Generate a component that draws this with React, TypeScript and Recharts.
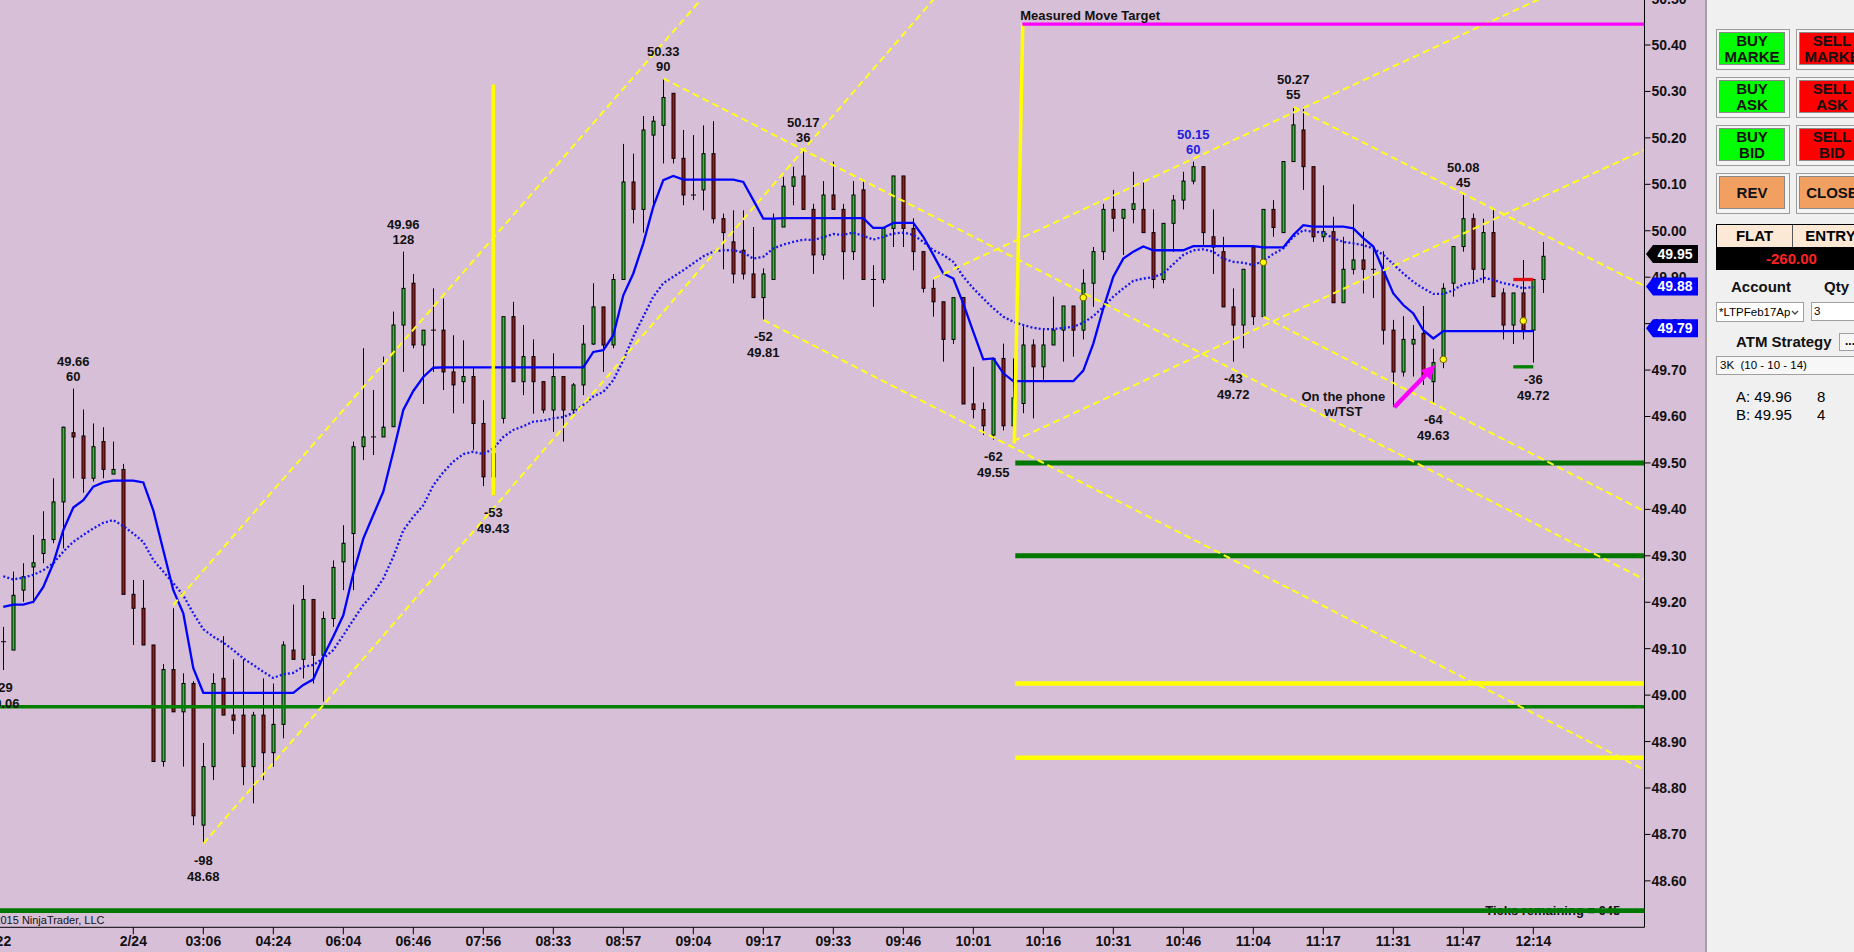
import React from "react";
import { Bar, ComposedChart, Line, ReferenceDot, ReferenceLine, XAxis, YAxis } from "recharts";

const FONT = '"Liberation Sans", Arial, sans-serif';

// candles (one per 10px)
const OPEN = [
  49.115, 49.097, 49.226, 49.276, 49.305, 49.335, 49.416, 49.565, 49.558, 49.467,
  49.546, 49.476, 49.486, 49.217, 49.187, 49.108, 48.857, 49.055, 48.964, 49.025,
  48.72, 48.846, 49.036, 48.957, 48.957, 48.846, 48.957, 48.876, 48.937, 49.097,
  49.077, 49.206, 49.086, 49.165, 49.287, 49.348, 49.535, 49.556, 49.556, 49.578,
  49.797, 49.887, 49.754, 49.786, 49.786, 49.696, 49.675, 49.686, 49.585, 49.47,
  49.596, 49.815, 49.675, 49.729, 49.675, 49.614, 49.686, 49.614, 49.668, 49.756,
  49.836, 49.754, 49.895, 50.105, 50.046, 50.206, 50.227, 50.296, 50.156, 50.077,
  50.088, 50.166, 50.026, 49.976, 49.958, 49.907, 49.856, 49.895, 50.008, 50.096,
  50.118, 50.046, 49.948, 50.077, 50.046, 49.955, 50.088, 49.895, 49.895, 50.005,
  50.118, 50.005, 49.955, 49.876, 49.847, 49.766, 49.856, 49.627, 49.615, 49.56,
  49.725, 49.58, 49.628, 49.754, 49.707, 49.754, 49.786, 49.838, 49.786, 49.887,
  49.955, 50.046, 50.027, 50.046, 50.046, 49.996, 49.895, 50.016, 50.066, 50.107,
  50.138, 49.987, 49.955, 49.836, 49.797, 49.965, 49.815, 50.046, 49.996, 50.149,
  50.217, 50.138, 49.987, 49.998, 49.845, 49.917, 49.937, 49.917, 49.917, 49.786,
  49.696, 49.756, 49.779, 49.675, 49.723, 49.887, 49.966, 50.026, 49.917, 49.996,
  49.866, 49.797, 49.866, 49.786, 49.895,
];
const HIGH = [
  49.147, 49.266, 49.284, 49.345, 49.396, 49.467, 49.578, 49.66, 49.615, 49.585,
  49.577, 49.546, 49.498, 49.248, 49.248, 49.108, 49.067, 49.187, 49.047, 49.03,
  48.897, 49.047, 49.127, 49.077, 49.077, 48.964, 49.036, 49.025, 49.116, 49.195,
  49.237, 49.206, 49.18, 49.29, 49.366, 49.546, 49.747, 49.657, 49.729, 49.826,
  49.955, 49.907, 49.786, 49.876, 49.854, 49.775, 49.764, 49.704, 49.635, 49.53,
  49.815, 49.847, 49.797, 49.766, 49.675, 49.736, 49.686, 49.672, 49.797, 49.887,
  49.836, 49.907, 50.187, 50.166, 50.247, 50.247, 50.328, 50.296, 50.217, 50.206,
  50.227, 50.236, 50.037, 50.044, 50.044, 50.008, 49.919, 50.037, 50.116, 50.138,
  50.174, 50.058, 50.107, 50.149, 50.058, 50.107, 50.107, 49.926, 50.005, 50.118,
  50.118, 50.027, 49.955, 49.895, 49.847, 49.856, 49.856, 49.707, 49.63, 49.725,
  49.757, 49.725, 49.799, 49.766, 49.786, 49.858, 49.838, 49.838, 49.917, 49.965,
  50.058, 50.088, 50.046, 50.127, 50.107, 50.046, 50.016, 50.077, 50.127, 50.149,
  50.138, 50.046, 49.987, 49.876, 49.917, 49.965, 50.046, 50.066, 50.149, 50.267,
  50.267, 50.138, 50.098, 50.03, 49.987, 50.057, 49.998, 49.967, 49.956, 49.808,
  49.816, 49.797, 49.838, 49.746, 49.887, 49.966, 50.077, 50.037, 50.026, 50.046,
  49.876, 49.866, 49.937, 49.895, 49.976,
];
const LOW = [
  49.054, 49.097, 49.201, 49.198, 49.284, 49.327, 49.316, 49.467, 49.436, 49.46,
  49.467, 49.476, 49.217, 49.108, 49.108, 48.857, 48.846, 48.964, 48.846, 48.72,
  48.68, 48.817, 48.957, 48.916, 48.806, 48.767, 48.817, 48.846, 48.907, 49.077,
  49.036, 49.025, 48.986, 49.147, 49.226, 49.226, 49.506, 49.517, 49.556, 49.578,
  49.696, 49.747, 49.627, 49.696, 49.657, 49.607, 49.628, 49.528, 49.45, 49.43,
  49.585, 49.675, 49.646, 49.606, 49.607, 49.567, 49.546, 49.607, 49.646, 49.754,
  49.696, 49.747, 49.895, 50.016, 49.996, 50.055, 50.145, 50.145, 50.055, 50.066,
  50.044, 50.016, 49.917, 49.887, 49.895, 49.856, 49.808, 49.895, 50.008, 50.055,
  50.046, 49.907, 49.937, 50.046, 49.895, 49.937, 49.895, 49.836, 49.887, 49.965,
  49.965, 49.915, 49.867, 49.815, 49.718, 49.756, 49.627, 49.596, 49.56, 49.55,
  49.57, 49.57, 49.607, 49.596, 49.679, 49.754, 49.718, 49.729, 49.766, 49.836,
  49.937, 49.998, 49.948, 50.016, 49.996, 49.876, 49.887, 49.955, 50.046, 50.1,
  49.965, 49.907, 49.836, 49.718, 49.747, 49.797, 49.815, 49.987, 49.996, 50.149,
  50.088, 49.976, 49.976, 49.845, 49.845, 49.906, 49.865, 49.855, 49.755, 49.62,
  49.686, 49.686, 49.668, 49.63, 49.704, 49.858, 49.955, 49.89, 49.887, 49.858,
  49.766, 49.756, 49.766, 49.716, 49.866,
];
const CLOSE = [
  49.115, 49.215, 49.255, 49.285, 49.335, 49.416, 49.577, 49.556, 49.467, 49.535,
  49.486, 49.486, 49.217, 49.187, 49.108, 48.857, 49.055, 48.964, 49.025, 48.74,
  48.846, 49.025, 48.957, 48.946, 48.846, 48.957, 48.876, 48.937, 49.108, 49.077,
  49.206, 49.086, 49.165, 49.275, 49.327, 49.535, 49.556, 49.556, 49.577, 49.797,
  49.876, 49.754, 49.786, 49.786, 49.696, 49.668, 49.686, 49.585, 49.47, 49.52,
  49.815, 49.675, 49.729, 49.675, 49.614, 49.686, 49.614, 49.668, 49.756, 49.836,
  49.754, 49.895, 50.105, 50.046, 50.217, 50.236, 50.287, 50.156, 50.077, 50.077,
  50.166, 50.026, 49.996, 49.907, 49.907, 49.856, 49.907, 50.026, 50.096, 50.116,
  50.046, 49.948, 50.077, 50.046, 49.955, 50.077, 49.895, 49.895, 50.005, 50.118,
  50.005, 49.955, 49.876, 49.847, 49.766, 49.856, 49.627, 49.615, 49.58, 49.725,
  49.58, 49.64, 49.754, 49.707, 49.754, 49.786, 49.838, 49.786, 49.887, 49.955,
  50.046, 50.027, 50.046, 50.058, 49.996, 49.895, 50.016, 50.066, 50.107, 50.138,
  49.996, 49.965, 49.836, 49.797, 49.917, 49.815, 50.046, 50.007, 50.149, 50.228,
  50.138, 49.987, 49.998, 49.845, 49.917, 49.937, 49.917, 49.917, 49.786, 49.696,
  49.766, 49.766, 49.686, 49.716, 49.876, 49.966, 50.026, 49.917, 49.996, 49.858,
  49.797, 49.866, 49.786, 49.895, 49.945,
];

// solid blue average
const MA = [
  49.19, 49.195, 49.195, 49.201, 49.233, 49.284, 49.355, 49.404, 49.42, 49.449,
  49.458, 49.462, 49.462, 49.462, 49.458, 49.398, 49.312, 49.226, 49.176, 49.058,
  49.005, 49.005, 49.005, 49.005, 49.005, 49.005, 49.005, 49.005, 49.005, 49.005,
  49.022, 49.034, 49.083, 49.126, 49.172, 49.262, 49.337, 49.388, 49.438, 49.524,
  49.614, 49.655, 49.685, 49.705, 49.706, 49.706, 49.706, 49.706, 49.706, 49.706,
  49.706, 49.706, 49.706, 49.706, 49.706, 49.706, 49.706, 49.706, 49.706, 49.739,
  49.743, 49.775, 49.861, 49.908, 49.973, 50.052, 50.109, 50.118, 50.11, 50.11,
  50.11, 50.11, 50.11, 50.11, 50.105, 50.066, 50.026, 50.026, 50.027, 50.027,
  50.027, 50.027, 50.027, 50.027, 50.027, 50.027, 50.027, 50.006, 50.006, 50.017,
  50.017, 50.017, 49.987, 49.948, 49.908, 49.897, 49.843, 49.782, 49.723, 49.725,
  49.693, 49.676, 49.676, 49.676, 49.676, 49.676, 49.676, 49.676, 49.699, 49.757,
  49.833, 49.901, 49.94, 49.955, 49.966, 49.958, 49.958, 49.958, 49.958, 49.967,
  49.967, 49.967, 49.967, 49.967, 49.967, 49.967, 49.964, 49.964, 49.964, 49.991,
  50.012, 50.009, 50.009, 50.009, 50.009, 50.005, 49.984, 49.966, 49.915, 49.865,
  49.84, 49.822, 49.786, 49.768, 49.784, 49.784, 49.784, 49.784, 49.784, 49.784,
  49.784, 49.784, 49.784, 49.784, null,
];
// dotted blue average
const EMA = [
  49.256, 49.249, 49.253, 49.259, 49.269, 49.284, 49.309, 49.33, 49.345, 49.359,
  49.371, 49.377, 49.364, 49.348, 49.33, 49.291, 49.266, 49.241, 49.215, 49.176,
  49.142, 49.126, 49.113, 49.097, 49.079, 49.065, 49.05, 49.037, 49.045, 49.048,
  49.061, 49.065, 49.079, 49.097, 49.129, 49.162, 49.194, 49.219, 49.251, 49.298,
  49.355, 49.384, 49.409, 49.452, 49.48, 49.503, 49.519, 49.524, 49.519, 49.531,
  49.556, 49.571, 49.579, 49.589, 49.591, 49.596, 49.599, 49.608, 49.625, 49.643,
  49.653, 49.678, 49.721, 49.772, 49.815, 49.858, 49.887, 49.901, 49.915, 49.93,
  49.945, 49.955, 49.958, 49.958, 49.953, 49.94, 49.944, 49.962, 49.97, 49.976,
  49.981, 49.98, 49.986, 49.993, 49.991, 49.996, 49.989, 49.981, 49.987, 49.994,
  49.996, 49.991, 49.976, 49.958, 49.948, 49.933, 49.901, 49.876, 49.854, 49.833,
  49.815, 49.804, 49.797, 49.791, 49.788, 49.788, 49.791, 49.793, 49.802, 49.816,
  49.836, 49.858, 49.876, 49.892, 49.897, 49.9, 49.908, 49.928, 49.948, 49.958,
  49.96, 49.955, 49.94, 49.933, 49.931, 49.926, 49.935, 49.95, 49.962, 49.987,
  50.001, 49.998, 49.996, 49.984, 49.976, 49.973, 49.969, 49.962, 49.948, 49.928,
  49.908, 49.89, 49.876, 49.864, 49.864, 49.872, 49.885, 49.888, 49.899, 49.894,
  49.887, 49.883, 49.876, 49.879, null,
];

const TICK_IDX = [-1, 13, 20, 27, 34, 41, 48, 55, 62, 69, 76, 83, 90, 97, 104, 111, 118, 125, 132, 139, 146, 153];
const TICK_LABELS = [
  "15:22", "2/24", "03:06", "04:24", "06:04", "06:46", "07:56", "08:33", "08:57", "09:04", "09:17",
  "09:33", "09:46", "10:01", "10:16", "10:31", "10:46", "11:04", "11:17", "11:31", "11:47", "12:14",
];
const PRICE_TICKS = [
  48.6, 48.7, 48.8, 48.9, 49.0, 49.1, 49.2, 49.3, 49.4, 49.5,
  49.6, 49.7, 49.8, 49.9, 50.0, 50.1, 50.2, 50.3, 50.4, 50.5,
];
const X_DOMAIN = [-0.33, 164.12];
const Y_DOMAIN = [48.5, 50.54];

// swing labels: bar index, kind, two text lines
const SWINGS = [
  { i: 0, kind: "low", a: "-29", b: "49.06" },
  { i: 7, kind: "high", a: "49.66", b: "60" },
  { i: 20, kind: "low", a: "-98", b: "48.68" },
  { i: 40, kind: "high", a: "49.96", b: "128" },
  { i: 49, kind: "low", a: "-53", b: "49.43" },
  { i: 66, kind: "high", a: "50.33", b: "90" },
  { i: 76, kind: "low", a: "-52", b: "49.81" },
  { i: 80, kind: "high", a: "50.17", b: "36" },
  { i: 99, kind: "low", a: "-62", b: "49.55" },
  { i: 119, kind: "high", a: "50.15", b: "60", blue: true },
  { i: 123, kind: "low", a: "-43", b: "49.72" },
  { i: 129, kind: "high", a: "50.27", b: "55" },
  { i: 143, kind: "low", a: "-64", b: "49.63" },
  { i: 146, kind: "high", a: "50.08", b: "45" },
  { i: 153, kind: "low", a: "-36", b: "49.72" },
];

// dashed trend lines [i1, p1, i2, p2]
const TRENDS = [
  [17, 49.194, 75, 50.627],
  [20, 48.68, 98, 50.622],
  [66, 50.328, 164.2, 49.248],
  [76, 49.808, 164.2, 48.838],
  [129, 50.267, 164.2, 49.88],
  [126, 49.815, 164.2, 49.395],
  [93, 49.897, 164.2, 50.604],
  [101, 49.547, 164.2, 50.175],
];
// solid yellow verticals
const VERTICALS = [
  [49, 49.43, 49, 50.315],
  [101.1, 49.542, 101.95, 50.446],
];
const ZONE_START = 101.2;
const GREEN_LEVELS = [49.5, 49.3];
const YELLOW_LEVELS = [49.025, 48.865];
const TARGET = 50.445;
const LONG_GREEN = 48.975;
const BOTTOM_GREEN = 48.536;
const STOP = 49.895;
const PROFIT = 49.707;
const MARKERS = [
  [108, 49.856],
  [126, 49.932],
  [144, 49.723],
  [152, 49.806],
];
const ARROW = [139.1, 49.62, 143.2, 49.711];
const BADGES = [
  { p: 49.95, text: "49.95", fill: "#000000" },
  { p: 49.88, text: "49.88", fill: "#0000ff" },
  { p: 49.79, text: "49.79", fill: "#0000ff" },
];

const rows = OPEN.map((o, i) => ({
  i,
  o,
  h: HIGH[i],
  l: LOW[i],
  c: CLOSE[i],
  ma: MA[i],
  ema: EMA[i],
}));

const CHART_W = 1745.5;
const CHART_H = 977.3;
const MARGIN = { top: 0, right: 0, bottom: 0, left: 40 };

function Candle(props: any) {
  const { x, y, width, height, payload } = props;
  if (x == null || y == null) return null;
  const cx = Math.round(x + width / 2) + 0.5;
  const top = Math.min(y, y + height);
  const bot = Math.max(y, y + height);
  const span = payload.h - payload.l;
  const toY = (v: number) => (span > 0 ? top + ((payload.h - v) / span) * (bot - top) : top);
  const yo = toY(payload.o);
  const yc = toY(payload.c);
  const up = payload.c > payload.o;
  const flat = Math.abs(yo - yc) < 1.5;
  return (
    <g>
      <line x1={cx} x2={cx} y1={top} y2={bot} stroke="#000" strokeWidth={1} />
      {flat ? (
        <line x1={cx - 2.5} x2={cx + 2.5} y1={yo} y2={yo} stroke="#000" strokeWidth={1} />
      ) : (
        <rect
          x={cx - 1.5}
          y={Math.min(yo, yc)}
          width={3}
          height={Math.abs(yo - yc)}
          fill={up ? "#2fbf2f" : "#a41818"}
          stroke="#000"
          strokeWidth={1}
        />
      )}
    </g>
  );
}

function SwingText(props: any) {
  const { cx, cy, s } = props;
  const offs = s.kind === "high" ? [-27, -12] : [17, 33];
  return (
    <g>
      {[s.a, s.b].map((t: string, j: number) => (
        <text
          key={j}
          x={cx}
          y={cy + offs[j]}
          textAnchor="middle"
          dominantBaseline="central"
          fontFamily={FONT}
          fontWeight={700}
          fontSize={13}
          fill={s.blue ? "#2020e0" : "#111"}
        >
          {t}
        </text>
      ))}
    </g>
  );
}

function Note(props: any) {
  const { cx, cy, text, anchor = "middle", size = 13, weight = 700 } = props;
  return (
    <text
      x={cx}
      y={cy}
      textAnchor={anchor}
      dominantBaseline="central"
      fontFamily={FONT}
      fontWeight={weight}
      fontSize={size}
      fill="#111"
    >
      {text}
    </text>
  );
}

function Arrow(props: any) {
  const { x1, y1, x2, y2 } = props;
  const a = Math.atan2(y2 - y1, x2 - x1);
  const hl = 14;
  const hw = 7;
  const bx = x2 - hl * Math.cos(a);
  const by = y2 - hl * Math.sin(a);
  const px = -Math.sin(a) * hw;
  const py = Math.cos(a) * hw;
  return (
    <g>
      <line x1={x1} y1={y1} x2={bx} y2={by} stroke="#ff00ff" strokeWidth={4.5} />
      <path d={`M${x2},${y2} L${bx + px},${by + py} L${bx - px},${by - py} Z`} fill="#ff00ff" />
    </g>
  );
}

function Badge(props: any) {
  const { cx, cy, b } = props;
  const x = cx + 1.5;
  return (
    <g>
      <path d={`M${x},${cy} L${x + 7},${cy - 9} H${x + 52} V${cy + 9} H${x + 7} Z`} fill={b.fill} />
      <text
        x={x + 29}
        y={cy}
        textAnchor="middle"
        dominantBaseline="central"
        fontFamily={FONT}
        fontWeight={700}
        fontSize={14}
        fill="#fff"
      >
        {b.text}
      </text>
    </g>
  );
}

function PriceChart() {
  const seg = (x1: number, y1: number, x2: number, y2: number) => [
    { x: x1, y: y1 },
    { x: x2, y: y2 },
  ];
  return (
    <ComposedChart width={CHART_W} height={CHART_H} data={rows} margin={MARGIN}>
      <XAxis
        type="number"
        dataKey="i"
        domain={X_DOMAIN}
        allowDataOverflow
        ticks={TICK_IDX}
        interval={0}
        tickFormatter={(v) => TICK_LABELS[TICK_IDX.indexOf(v)] ?? ""}
        tickSize={7}
        tickMargin={2}
        height={30}
        stroke="#000"
        tick={{ fontSize: 14, fontWeight: 700, fill: "#111", fontFamily: FONT }}
      />
      <YAxis
        type="number"
        orientation="right"
        domain={Y_DOMAIN}
        allowDataOverflow
        ticks={PRICE_TICKS}
        interval={0}
        tickFormatter={(v) => Number(v).toFixed(2)}
        tickSize={6}
        tickMargin={1}
        width={61}
        stroke="#000"
        tick={{ fontSize: 14, fontWeight: 700, fill: "#111", fontFamily: FONT }}
      />
      <ReferenceDot
        x={161.7}
        y={BOTTOM_GREEN}
        r={0}
        ifOverflow="visible"
        shape={(p: any) => <Note {...p} text="Ticks remaining = 645" anchor="end" />}
      />
      <Bar
        dataKey={(d: any) => [d.l, d.h]}
        barSize={6}
        shape={(p: any) => <Candle {...p} />}
        isAnimationActive={false}
      />
      <Line
        dataKey="ema"
        stroke="#1616f0"
        strokeWidth={2.3}
        strokeDasharray="2 2.2"
        dot={false}
        activeDot={false}
        isAnimationActive={false}
      />
      <Line
        dataKey="ma"
        stroke="#0000ff"
        strokeWidth={2.3}
        dot={false}
        activeDot={false}
        isAnimationActive={false}
      />
      <ReferenceLine y={LONG_GREEN} stroke="#008000" strokeWidth={3.3} />
      {GREEN_LEVELS.map((p) => (
        <ReferenceLine
          key={p}
          segment={seg(ZONE_START, p, 164.2, p)}
          stroke="#007800"
          strokeWidth={5}
          ifOverflow="hidden"
        />
      ))}
      {YELLOW_LEVELS.map((p) => (
        <ReferenceLine
          key={p}
          segment={seg(ZONE_START, p, 164.2, p)}
          stroke="#ffff00"
          strokeWidth={4.5}
          ifOverflow="hidden"
        />
      ))}
      {TRENDS.map((t, n) => (
        <ReferenceLine
          key={"t" + n}
          segment={seg(t[0], t[1], t[2], t[3])}
          stroke="#ffff1a"
          strokeWidth={2}
          strokeDasharray="7 4"
          ifOverflow="hidden"
        />
      ))}
      {VERTICALS.map((t, n) => (
        <ReferenceLine
          key={"v" + n}
          segment={seg(t[0], t[1], t[2], t[3])}
          stroke="#ffff00"
          strokeWidth={3.5}
          ifOverflow="hidden"
        />
      ))}
      <ReferenceLine
        segment={seg(101.9, TARGET, 164.2, TARGET)}
        stroke="#ff00ff"
        strokeWidth={3.3}
        ifOverflow="hidden"
      />
      <ReferenceLine segment={seg(151, STOP, 153, STOP)} stroke="#e01010" strokeWidth={3.3} />
      <ReferenceLine segment={seg(151, PROFIT, 153, PROFIT)} stroke="#008000" strokeWidth={3.3} />
      <ReferenceLine
        segment={seg(ARROW[0], ARROW[1], ARROW[2], ARROW[3])}
        shape={(p: any) => <Arrow {...p} />}
      />
      {MARKERS.map((m, n) => (
        <ReferenceDot
          key={"m" + n}
          x={m[0]}
          y={m[1]}
          r={3.3}
          fill="#ffff00"
          stroke="#6b5a00"
          strokeWidth={1}
        />
      ))}
      {SWINGS.map((s) => (
        <ReferenceDot
          key={"s" + s.i}
          x={s.i}
          y={s.kind === "high" ? HIGH[s.i] : LOW[s.i]}
          r={0}
          ifOverflow="visible"
          shape={(p: any) => <SwingText {...p} s={s} />}
        />
      ))}
      <ReferenceDot
        x={101.7}
        y={50.464}
        r={0}
        ifOverflow="visible"
        shape={(p: any) => <Note {...p} text="Measured Move Target" anchor="start" />}
      />
      <ReferenceDot
        x={134}
        y={49.643}
        r={0}
        ifOverflow="visible"
        shape={(p: any) => <Note {...p} text="On the phone" />}
      />
      <ReferenceDot
        x={134}
        y={49.611}
        r={0}
        ifOverflow="visible"
        shape={(p: any) => <Note {...p} text="w/TST" />}
      />
      <ReferenceDot
        x={-1.7}
        y={48.515}
        r={0}
        ifOverflow="visible"
        shape={(p: any) => <Note {...p} text="©2015 NinjaTrader, LLC" anchor="start" size={11} weight={400} />}
      />
    </ComposedChart>
  );
}

// same scales, drawn on top: the bottom line over its text, the price badges over the axis labels
function OverlayChart() {
  return (
    <ComposedChart width={CHART_W} height={CHART_H} data={rows} margin={MARGIN}>
      <XAxis
        type="number"
        dataKey="i"
        domain={X_DOMAIN}
        allowDataOverflow
        height={30}
        tick={false}
        tickLine={false}
        axisLine={false}
      />
      <YAxis
        type="number"
        orientation="right"
        domain={Y_DOMAIN}
        allowDataOverflow
        width={61}
        tick={false}
        tickLine={false}
        axisLine={false}
      />
      <ReferenceLine y={BOTTOM_GREEN} stroke="#007800" strokeWidth={4.7} />
      {BADGES.map((b) => (
        <ReferenceDot
          key={b.text}
          x={X_DOMAIN[1]}
          y={b.p}
          r={0}
          ifOverflow="visible"
          shape={(p: any) => <Badge {...p} b={b} />}
        />
      ))}
    </ComposedChart>
  );
}

function Btn({ left, top, fill, l1, l2 }: { left: number; top: number; fill: string; l1: string; l2?: string }) {
  return (
    <div
      style={{
        position: "absolute",
        left,
        top,
        width: 68,
        height: 35,
        border: "1px solid #9c9c9c",
        background: "#f4f4f4",
        padding: 2,
        boxSizing: "content-box",
      }}
    >
      <div
        style={{
          width: 64,
          height: 31,
          background: fill,
          border: "1px solid #8a8a8a",
          display: "flex",
          flexDirection: "column",
          alignItems: "center",
          justifyContent: "center",
          fontWeight: 700,
          fontSize: 15,
          lineHeight: "16px",
          color: "#111",
          overflow: "hidden",
          whiteSpace: "nowrap",
        }}
      >
        <span>{l1}</span>
        {l2 ? <span>{l2}</span> : null}
      </div>
    </div>
  );
}

function TradePanel() {
  const txt: React.CSSProperties = { position: "absolute", fontWeight: 700, fontSize: 15, color: "#111" };
  return (
    <div
      style={{
        position: "absolute",
        left: 1705,
        top: 0,
        width: 149,
        height: 952,
        background: "#f0f0f0",
        borderLeft: "2px solid #a0a0a0",
        boxSizing: "border-box",
        fontFamily: FONT,
        overflow: "hidden",
      }}
    >
      <div style={{ position: "absolute", left: 9, top: 0, width: 200, height: 952 }}>
        <Btn left={0} top={29} fill="#00ff00" l1="BUY" l2="MARKE" />
        <Btn left={80} top={29} fill="#ff0000" l1="SELL" l2="MARKE" />
        <Btn left={0} top={77} fill="#00ff00" l1="BUY" l2="ASK" />
        <Btn left={80} top={77} fill="#ff0000" l1="SELL" l2="ASK" />
        <Btn left={0} top={125} fill="#00ff00" l1="BUY" l2="BID" />
        <Btn left={80} top={125} fill="#ff0000" l1="SELL" l2="BID" />
        <Btn left={0} top={173} fill="#f2a062" l1="REV" />
        <Btn left={80} top={173} fill="#f2a062" l1="CLOSE" />
        <div
          style={{
            position: "absolute",
            left: 0,
            top: 224,
            width: 160,
            height: 46,
            border: "1px solid #000",
            boxSizing: "border-box",
          }}
        >
          <div style={{ display: "flex", height: 22, background: "#fbe9d6", borderBottom: "1px solid #000" }}>
            <div
              style={{
                width: 75,
                borderRight: "1px solid #555",
                textAlign: "center",
                fontWeight: 700,
                fontSize: 15,
                lineHeight: "22px",
              }}
            >
              FLAT
            </div>
            <div style={{ width: 75, textAlign: "center", fontWeight: 700, fontSize: 15, lineHeight: "22px" }}>
              ENTRY
            </div>
          </div>
          <div
            style={{
              height: 22,
              background: "#000",
              color: "#ff2020",
              fontWeight: 700,
              fontSize: 15,
              lineHeight: "22px",
              paddingLeft: 49,
            }}
          >
            -260.00
          </div>
        </div>
        <div style={{ ...txt, left: 15, top: 278 }}>Account</div>
        <div style={{ ...txt, left: 108, top: 278 }}>Qty</div>
        <div
          style={{
            position: "absolute",
            left: 0,
            top: 302,
            width: 88,
            height: 20,
            background: "#fff",
            border: "1px solid #a0a0a0",
            boxSizing: "border-box",
            fontSize: 11.5,
            lineHeight: "18px",
            paddingLeft: 2,
            whiteSpace: "nowrap",
            overflow: "hidden",
          }}
        >
          *LTPFeb17Ap
          <svg width="8" height="6" style={{ position: "absolute", right: 4, top: 7 }}>
            <path d="M1,1 L4,4 L7,1" stroke="#444" fill="none" strokeWidth="1.3" />
          </svg>
        </div>
        <div
          style={{
            position: "absolute",
            left: 95,
            top: 302,
            width: 60,
            height: 19,
            background: "#fff",
            border: "1px solid #a0a0a0",
            boxSizing: "border-box",
            fontSize: 11.5,
            lineHeight: "17px",
            paddingLeft: 2,
          }}
        >
          3
        </div>
        <div style={{ ...txt, left: 20, top: 333 }}>ATM Strategy</div>
        <div
          style={{
            position: "absolute",
            left: 123,
            top: 333,
            width: 30,
            height: 18,
            border: "1px solid #a0a0a0",
            background: "#f6f6f6",
            fontSize: 12,
            fontWeight: 700,
            lineHeight: "14px",
            paddingLeft: 5,
            boxSizing: "border-box",
          }}
        >
          ...
        </div>
        <div
          style={{
            position: "absolute",
            left: 0,
            top: 356,
            width: 160,
            height: 19,
            border: "1px solid #a0a0a0",
            background: "#f7f7f7",
            fontSize: 11.5,
            lineHeight: "17px",
            paddingLeft: 3,
            boxSizing: "border-box",
          }}
        >
          3K&nbsp; (10 - 10 - 14)
        </div>
        <div style={{ position: "absolute", left: 20, top: 388, fontSize: 15 }}>A: 49.96</div>
        <div style={{ position: "absolute", left: 101, top: 388, fontSize: 15 }}>8</div>
        <div style={{ position: "absolute", left: 20, top: 406, fontSize: 15 }}>B: 49.95</div>
        <div style={{ position: "absolute", left: 101, top: 406, fontSize: 15 }}>4</div>
      </div>
    </div>
  );
}

export default function App() {
  return (
    <div
      style={{
        position: "fixed",
        left: 0,
        top: 0,
        width: 1854,
        height: 952,
        overflow: "hidden",
        background: "#d8bfd8",
        fontFamily: FONT,
      }}
    >
      <div style={{ position: "absolute", left: -40, top: -20 }}>
        <PriceChart />
      </div>
      <div style={{ position: "absolute", left: -40, top: -20, pointerEvents: "none" }}>
        <OverlayChart />
      </div>
      <TradePanel />
    </div>
  );
}
